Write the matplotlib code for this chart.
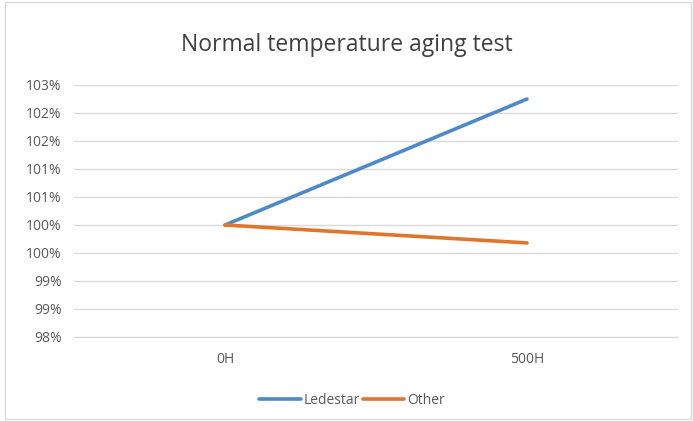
import numpy as np
import matplotlib.pyplot as plt
from matplotlib.patches import Rectangle

plt.rcParams['font.family'] = ['Open Sans', 'DejaVu Sans']

# data
categories = ['0H', '500H']
ledestar = [1.00, 1.0225]
other = [1.00, 0.9968]
y_ticks = [0.98, 0.985, 0.99, 0.995, 1.00, 1.005, 1.01, 1.015, 1.02, 1.025]

fig = plt.figure(figsize=(6.93, 4.21), dpi=100)
ax = fig.add_axes([74 / 693, 84 / 421, 604 / 693, 252 / 421])

x = np.arange(len(categories))
ax.plot(x, ledestar, color='#4E8AC8', linewidth=2.6, label='Ledestar', solid_capstyle='round')
ax.plot(x, other, color='#E0752B', linewidth=2.6, label='Other', solid_capstyle='round')

ax.set_xlim(-0.5, 1.5)
ax.set_ylim(y_ticks[0], y_ticks[-1])
ax.set_yticks(y_ticks)
# Excel-style rounding to whole percent (half up)
ax.set_yticklabels([f"{np.floor(v * 100 + 0.5 + 1e-9):.0f}%" for v in y_ticks])
ax.set_xticks(x)
ax.set_xticklabels(categories)
ax.grid(axis='y', color='#D9D9D9', linewidth=1)
ax.set_axisbelow(True)
for s in ['top', 'right', 'left']:
    ax.spines[s].set_visible(False)
ax.spines['bottom'].set_color('#D9D9D9')
ax.tick_params(axis='both', length=0, colors='#595959', labelsize=10)
ax.tick_params(axis='y', pad=9)
ax.tick_params(axis='x', pad=11)

fig.text(0.5, 1 - 45 / 421, 'Normal temperature aging test', ha='center', va='center',
         fontsize=16.5, color='#404040')

fig.legend(loc='center', bbox_to_anchor=(352 / 693, 1 - 400 / 421), ncol=2, frameon=False,
           fontsize=10, handlelength=3.0, columnspacing=0.2, handletextpad=0.2,
           labelcolor='#595959')

# chart border
fig.patches.append(Rectangle((5 / 693, 2 / 421), 686 / 693, 417 / 421, transform=fig.transFigure,
                             fill=False, edgecolor='#D9D9D9', linewidth=1))

fig.savefig('out.png', dpi=100)
